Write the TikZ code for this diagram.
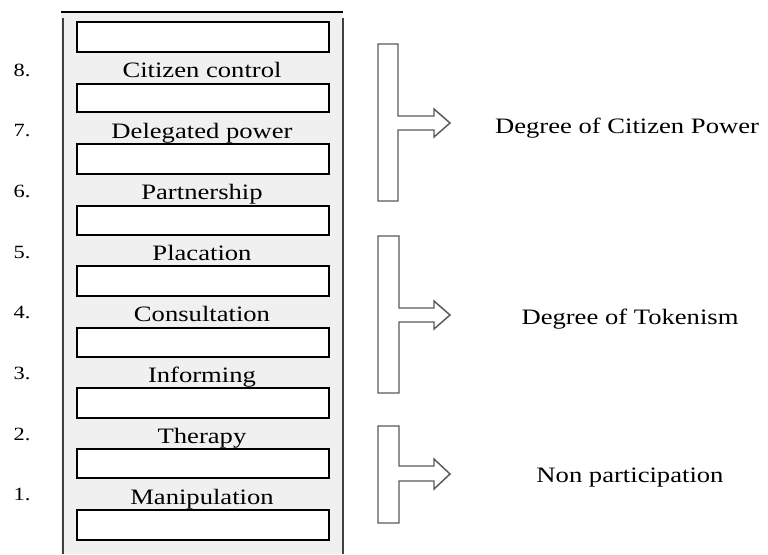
\documentclass[tikz,border=0pt]{standalone}
\usepackage{fontspec}
\setmainfont{Liberation Serif}

\tikzset{every picture/.style={line width=0.75pt}}
\tikzset{
  rung/.style={draw=black, fill=white, line width=1.6pt},
  lbl/.style={font=\fontsize{16.5}{19}\selectfont, xscale=1.21, inner sep=0pt, anchor=base},
  numlbl/.style={font=\fontsize{14}{16}\selectfont, xscale=1.2, inner sep=0pt, anchor=base west},
  brk/.style={draw=black!65, line width=1.1pt, line join=miter}
}

\begin{document}
\begin{tikzpicture}[x=0.75pt,y=0.75pt,yscale=-1,xscale=1]
\useasboundingbox (0,0) rectangle (768,554);

%Shape: Ladder background
\fill [black!6] (61,12) rectangle (343,554);
\draw [line width=1pt] (61,12) -- (343,12);
\draw [line width=1.6pt, black!75] (63,18) -- (63,554);
\draw [line width=1.6pt, black!75] (343,18) -- (343,554);

%Shape: Rungs
\draw [rung] (77,22) rectangle (329,52) coordinate (r9);
\draw [rung] (77,84) rectangle (329,112) coordinate (r8);
\draw [rung] (77,144) rectangle (329,174) coordinate (r7);
\draw [rung] (77,206) rectangle (329,235) coordinate (r6);
\draw [rung] (77,266) rectangle (329,296) coordinate (r5);
\draw [rung] (77,328) rectangle (329,357) coordinate (r4);
\draw [rung] (77,388) rectangle (329,418) coordinate (r3);
\draw [rung] (77,449) rectangle (329,478) coordinate (r2);
\draw [rung] (77,510) rectangle (329,540) coordinate (r1);

% Text Node
\node [lbl] (control) at (202,77) {Citizen control};
% Text Node
\node [lbl] (delegated) at (202,138) {Delegated power};
% Text Node
\node [lbl] (partner) at (202,199) {Partnership};
% Text Node
\node [lbl] (placation) at (202,260) {Placation};
% Text Node
\node [lbl] (consult) at (202,321) {Consultation};
% Text Node
\node [lbl] (inform) at (202,382) {Informing};
% Text Node
\node [lbl] (therapy) at (202,443) {Therapy};
% Text Node
\node [lbl] (manip) at (202,504) {Manipulation};

% Text Node
\node [numlbl] (n8) at (13,76) {8.};
% Text Node
\node [numlbl] (n7) at (13,136) {7.};
% Text Node
\node [numlbl] (n6) at (13,197) {6.};
% Text Node
\node [numlbl] (n5) at (13,258) {5.};
% Text Node
\node [numlbl] (n4) at (13,318) {4.};
% Text Node
\node [numlbl] (n3) at (13,379) {3.};
% Text Node
\node [numlbl] (n2) at (13,440) {2.};
% Text Node
\node [numlbl] (n1) at (13,500) {1.};

%Shape: Bracket arrow (citizen power)
\draw [brk] (378,44) -- (398,44) -- (398,116) -- (434,116) -- (434,109) -- (450,123) -- (434,137) -- (434,130) -- (398,130) -- (398,201) -- (378,201) -- cycle;
%Shape: Bracket arrow (tokenism)
\draw [brk] (378,236) -- (399,236) -- (399,308) -- (434,308) -- (434,301) -- (450,315) -- (434,329) -- (434,322) -- (399,322) -- (399,393) -- (378,393) -- cycle;
%Shape: Bracket arrow (non participation)
\draw [brk] (378,426) -- (399,426) -- (399,466) -- (434,466) -- (434,459) -- (450,474) -- (434,489) -- (434,481) -- (399,481) -- (399,523) -- (378,523) -- cycle;

% Text Node
\node [lbl] (power) at (627,133) {Degree of Citizen Power};
% Text Node
\node [lbl] (token) at (630,324) {Degree of Tokenism};
% Text Node
\node [lbl] (nonpart) at (630,482) {Non participation};

\end{tikzpicture}
\end{document}
